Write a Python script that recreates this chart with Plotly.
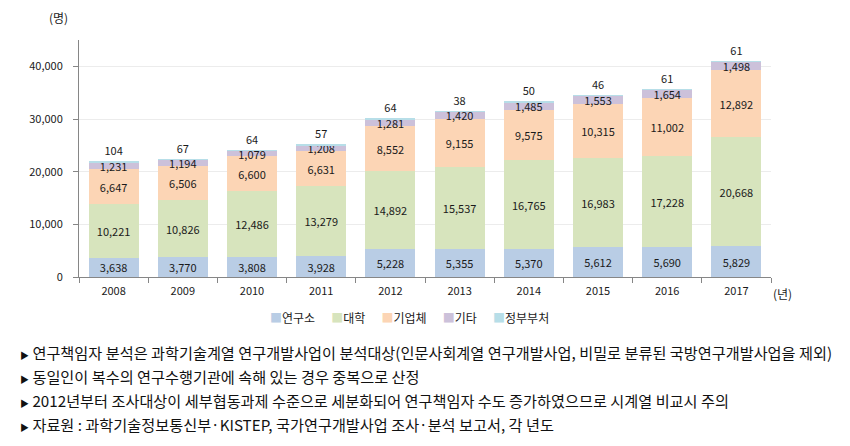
import plotly.graph_objects as go

# 연도별 연구책임자 수 (명)
years = ["2008", "2009", "2010", "2011", "2012", "2013", "2014", "2015", "2016", "2017"]
institute = [3638, 3770, 3808, 3928, 5228, 5355, 5370, 5612, 5690, 5829]
university = [10221, 10826, 12486, 13279, 14892, 15537, 16765, 16983, 17228, 20668]
company = [6647, 6506, 6600, 6631, 8552, 9155, 9575, 10315, 11002, 12892]
others = [1231, 1194, 1079, 1208, 1281, 1420, 1485, 1553, 1654, 1498]
government = [104, 67, 64, 57, 64, 38, 50, 46, 61, 61]

series = [
    ("연구소", institute, "#b9cde5"),
    ("대학", university, "#d7e4bd"),
    ("기업체", company, "#fcd5b5"),
    ("기타", others, "#ccc1da"),
    ("정부부처", government, "#b7dee8"),
]

notes = [
    "연구책임자 분석은 과학기술계열 연구개발사업이 분석대상(인문사회계열 연구개발사업, 비밀로 분류된 국방연구개발사업을 제외)",
    "동일인이 복수의 연구수행기관에 속해 있는 경우 중복으로 산정",
    "2012년부터 조사대상이 세부협동과제 수준으로 세분화되어 연구책임자 수도 증가하였으므로 시계열 비교시 주의",
    "자료원 : 과학기술정보통신부·KISTEP, 국가연구개발사업 조사·분석 보고서, 각 년도",
]

FONT = "Noto Sans CJK KR"

fig = go.Figure()
for name, vals, color in series:
    top = name == "정부부처"
    fig.add_trace(go.Bar(
        x=years, y=vals, name=name,
        marker=dict(color=color, line=dict(width=0)),
        text=[f"{v:,}" for v in vals],
        textposition="outside" if top else "inside",
        insidetextanchor="middle",
        constraintext="none",
        textfont=dict(family=FONT, size=11, color="#1a1a1a"),
        cliponaxis=False,
        showlegend=False,
    ))

fig.update_layout(
    barmode="stack",
    bargap=0.28,
    width=850, height=446,
    margin=dict(l=79, r=79, t=40, b=169, autoexpand=False),
    plot_bgcolor="white",
    paper_bgcolor="white",
    font=dict(family=FONT, size=11, color="#1a1a1a"),
    showlegend=False,
)

fig.update_xaxes(
    type="category", tickson="boundaries", ticks="outside", ticklen=5,
    tickcolor="#868686", showline=True, linecolor="#868686",
    tickfont=dict(size=11), ticklabelstandoff=4,
)
fig.update_yaxes(
    range=[0, 45000], dtick=10000, tickformat=",", showgrid=True,
    gridcolor="#ececec", ticks="outside", ticklen=5, tickcolor="#868686",
    showline=True, linecolor="#868686", zeroline=False, tickfont=dict(size=11),
    ticklabelstandoff=8,
)

# 범례 (텍스트 기호로 구성)
legend_text = "      ".join(
    f"<span style='color:{c}'>■</span>{n}" for n, _, c in series
)
fig.add_annotation(text=legend_text, xref="paper", yref="paper", x=0.478, y=-0.169,
                   xanchor="center", yanchor="middle", showarrow=False,
                   font=dict(size=12))

fig.add_annotation(text="(명)", xref="paper", yref="paper", x=-0.03, y=1.097,
                   xanchor="center", yanchor="middle", showarrow=False,
                   font=dict(size=12))
fig.add_annotation(text="(년)", xref="paper", yref="paper", x=1.017, y=-0.068,
                   xanchor="center", yanchor="middle", showarrow=False,
                   font=dict(size=12))

for i, line in enumerate(notes):
    fig.add_annotation(
        text="<span style='font-size:9px'>▶</span> " + line,
        xref="paper", yref="paper", x=-0.088, y=-0.3165 - i * 0.1013,
        xanchor="left", yanchor="middle", showarrow=False,
        font=dict(size=15.2, color="#111111"),
    )

fig.write_html(
    "out.html",
    config={"displayModeBar": False},
    post_script="document.body.style.margin='0';",
)
